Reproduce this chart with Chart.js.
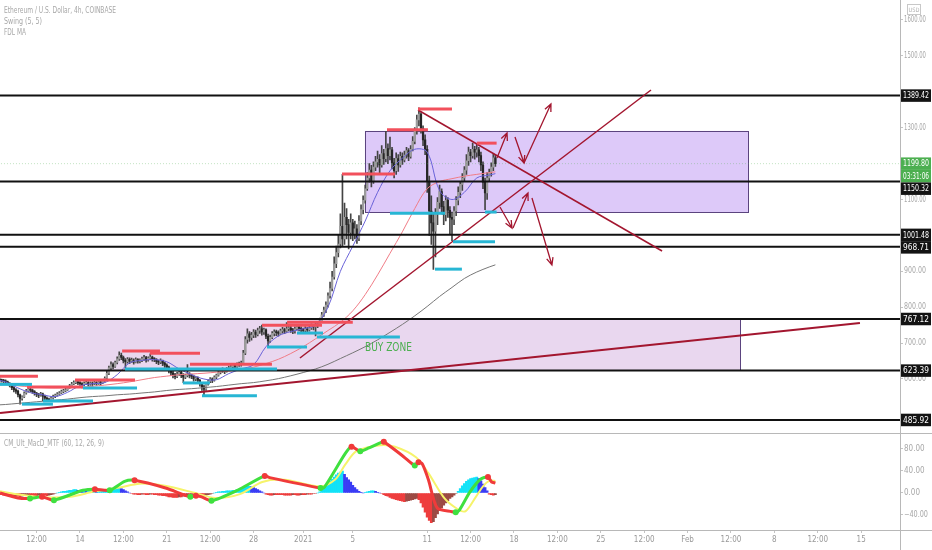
<!DOCTYPE html>
<html>
<head>
<meta charset="utf-8">
<script src="https://cdn.jsdelivr.net/npm/chart.js@4.4.1/dist/chart.umd.min.js"></script>
<style>
html, body { margin: 0; padding: 0; background: #fff; }
canvas { display: block; }
</style>
</head>
<body>
<canvas id="chart" width="932" height="550"></canvas>
<script>
const FONT = '"Liberation Sans Narrow", "DejaVu Sans Condensed", "Liberation Sans", sans-serif';

// x axis: days counted from Dec 14 2020 00:00, 4h bars
const tickDays = [-3.5, 0, 3.5, 7, 10.5, 14, 18, 22, 28, 31.5, 35, 38.5, 42, 45.5, 49, 52.5, 56, 59.5, 63];
const tickLabels = ['12:00', '14', '12:00', '21', '12:00', '28', '2021', '5', '11', '12:00', '18', '12:00', '25', '12:00', 'Feb', '12:00', '8', '12:00', '15'];
const priceTicks = [1600, 1500, 1300, 1100, 900, 800, 700, 600];
const macdTicks = [80, 40, 0, -40];

const firstDay = -6.5;
const firstOpen = 600;
const closes = [
  598, 596, 594,
  592, 588, 582, 576, 570, 566,
  556, 546, 550, 561, 567, 572,
  569, 565, 561, 557, 555, 559,
  552, 547, 544, 541, 547, 551,
  555, 558, 561, 565, 567, 570,
  575, 581, 586, 590, 592, 589,
  587, 584, 588, 590, 586, 588,
  586, 590, 587, 592, 589, 594,
  602, 616, 631, 640, 635, 646,
  656, 666, 660, 652, 648, 655,
  650, 653, 647, 654, 650, 652,
  656, 660, 653, 658, 661, 656,
  654, 649, 647, 651, 644, 639,
  633, 624, 617, 612, 607, 614,
  619, 611, 605, 610, 614, 611,
  607, 600, 603, 596, 588, 578,
  572, 586, 594, 600, 597, 605,
  611, 618, 623, 626, 621, 628,
  631, 634, 638, 635, 640, 642,
  645, 672, 710, 726, 716, 722,
  731, 724, 735, 740, 731, 737,
  719, 706, 716, 727, 731, 729,
  727, 734, 738, 733, 740, 742,
  737, 734, 740, 745, 741, 737,
  735, 740, 737, 742, 748, 745,
  749, 753, 762, 779, 792, 806,
  832, 852, 884, 921, 952, 976,
  1025, 990, 1050, 1030, 1008, 1035,
  1002, 1018, 992, 1040, 1072, 1098,
  1130, 1160, 1182, 1150, 1190, 1205,
  1212, 1196, 1228, 1214, 1242, 1222,
  1238, 1202, 1180, 1214, 1196, 1220,
  1210, 1224, 1236, 1220, 1240, 1262,
  1292, 1322, 1338, 1298, 1266, 1240,
  1150, 1068, 1035, 1012, 1060, 1092,
  1122, 1080, 1058, 1098, 1070, 1050,
  1045, 1068, 1098, 1120, 1142, 1160,
  1182, 1208, 1232, 1222, 1240, 1232,
  1238, 1222, 1196, 1148, 1118, 1160,
  1176, 1190, 1216, 1199.8
];
const highs = [
  608, 600, 599,
  598, 594, 590, 584, 579, 573,
  569, 558, 553, 564, 571, 576,
  580, 572, 568, 563, 560, 563,
  561, 555, 550, 547, 551, 555,
  558, 562, 565, 569, 571, 574,
  578, 585, 591, 595, 597, 595,
  593, 590, 592, 594, 593, 592,
  592, 594, 593, 596, 595, 598,
  606, 622, 636, 648, 645, 650,
  662, 676, 672, 664, 657, 660,
  659, 658, 656, 659, 657, 656,
  661, 666, 663, 662, 670, 664,
  660, 657, 653, 656, 653, 647,
  642, 636, 628, 622, 616, 619,
  624, 622, 615, 614, 640, 618,
  614, 611, 607, 606, 599, 591,
  583, 590, 598, 604, 603, 609,
  614, 622, 628, 631, 628, 632,
  636, 639, 642, 641, 645, 647,
  650, 680, 718, 740, 732, 730,
  738, 736, 742, 747, 750, 742,
  740, 725, 722, 732, 737, 736,
  734, 739, 744, 742, 757, 748,
  747, 741, 745, 751, 750, 745,
  742, 746, 744, 748, 754, 752,
  755, 759, 770, 786, 800, 815,
  840, 870, 900, 940, 970, 1000,
  1060, 1170, 1090, 1075, 1045, 1060,
  1045, 1040, 1030, 1055, 1085, 1110,
  1140, 1175, 1200, 1195, 1205, 1220,
  1235, 1225, 1250, 1240, 1290, 1255,
  1274, 1245, 1215, 1230, 1225, 1232,
  1230, 1235, 1245, 1242, 1250, 1275,
  1300, 1335, 1355, 1342, 1305, 1280,
  1250, 1165, 1110, 1060, 1075, 1105,
  1140, 1130, 1095, 1110, 1105, 1080,
  1065, 1080, 1108, 1135, 1150, 1172,
  1192, 1225, 1246, 1240, 1257, 1248,
  1255, 1245, 1232, 1205, 1160, 1175,
  1185, 1202, 1228, 1224
];
const lows = [
  587, 591, 589,
  587, 584, 578, 570, 564, 560,
  550, 530, 541, 548, 558, 563,
  564, 560, 555, 551, 548, 552,
  539, 541, 540, 538, 540, 544,
  548, 552, 555, 559, 562, 565,
  568, 574, 579, 584, 587, 584,
  582, 575, 581, 584, 581, 582,
  580, 584, 582, 585, 584, 587,
  591, 600, 612, 626, 628, 632,
  642, 652, 654, 645, 628, 644,
  643, 646, 641, 645, 644, 645,
  648, 652, 647, 650, 654, 650,
  648, 643, 640, 643, 637, 632,
  626, 617, 609, 603, 600, 604,
  610, 604, 590, 601, 606, 603,
  601, 594, 595, 589, 580, 568,
  555, 568, 583, 590, 590, 594,
  601, 608, 614, 618, 615, 619,
  623, 627, 630, 629, 632, 635,
  636, 642, 668, 700, 705, 708,
  715, 716, 720, 727, 722, 724,
  712, 690, 702, 712, 720, 721,
  719, 724, 728, 726, 730, 734,
  730, 726, 728, 736, 734, 729,
  726, 731, 729, 733, 738, 737,
  720, 743, 750, 758, 774, 785,
  800, 825, 845, 878, 910, 940,
  965, 970, 975, 990, 962, 990,
  985, 990, 978, 985, 1030, 1060,
  1090, 1125, 1148, 1135, 1145, 1180,
  1190, 1172, 1190, 1198, 1205, 1200,
  1210, 1185, 1160, 1170, 1178, 1190,
  1198, 1205, 1215, 1208, 1215, 1235,
  1255, 1282, 1305, 1285, 1250, 1225,
  1120, 1000, 975, 905, 940, 1030,
  1075, 1060, 1030, 1040, 1050, 1005,
  985, 1030, 1055, 1085, 1105, 1125,
  1150, 1170, 1195, 1205, 1215, 1212,
  1218, 1205, 1180, 1130, 1072, 1100,
  1150, 1165, 1180, 1192
];

// moving averages, one point per day
const maDays = [-6.5, -6, -5, -4, -3, -2, -1, 0, 1, 2, 3, 4, 5, 6, 7, 8, 9, 10, 11, 12, 13, 14, 15, 16, 17, 18, 19, 20, 21, 22, 23, 24, 25, 26, 27, 28, 29, 30, 31, 32, 33, 33.5];
const fastMA = [596, 592, 575, 562, 556, 551, 563, 581, 587, 590, 612, 645, 652, 654, 648, 628, 612, 600, 598, 615, 628, 640, 690, 720, 732, 740, 750, 800, 900, 970, 1040, 1120, 1180, 1215, 1240, 1232, 1125, 1100, 1120, 1160, 1168, 1172];
const midMA = [586, 585, 581, 578, 576, 575, 576, 577, 580, 583, 587, 592, 598, 604, 608, 612, 614, 616, 619, 622, 627, 633, 643, 655, 671, 690, 712, 735, 758, 790, 835, 890, 950, 1010, 1075, 1130, 1150, 1158, 1165, 1170, 1175, 1177];
const slowMA = [528, 529, 532, 535, 538, 541, 544, 548, 551, 553, 556, 558, 561, 564, 568, 571, 573, 576, 579, 583, 587, 590, 595, 601, 609, 618, 628, 641, 657, 673, 690, 709, 730, 752, 776, 802, 830, 855, 880, 898, 912, 918];

// MACD pane
const macdDays = [-6.45, -5.0, -4.03, -3.06, -2.1, 0.24, 1.2, 2.4, 3.6, 4.4, 6.9, 8.9, 9.35, 9.8, 10.6, 12.7, 14.9, 15.3, 19.4, 19.7, 21.4, 21.9, 22.6, 23.3, 24.2, 24.5, 26.1, 27.0, 27.3, 27.6, 28.1, 28.8, 30.0, 30.3, 30.6, 31.45, 32.3, 32.9, 33.2, 33.5];
const macdVals = [0, -9, -10, -7, -13, 5, 7, 5, 21, 23, 9, -7, -5, -7, -14, 5, 31, 28, 9, 10, 72, 84, 76, 82, 91, 93, 66, 50, 56, 53, 24, -27, -34, -35, -31, 2, 25, 29, 20, 18];
const sigDays = [-6.45, -4.8, -2.8, -0.8, 1.2, 3.2, 4.8, 6.85, 9.3, 10.9, 12.9, 14.7, 16.5, 19.35, 20.6, 21.4, 22.3, 24.2, 25.4, 27.1, 28.1, 29.4, 30.5, 31.1, 31.9, 32.5, 33.0, 33.5];
const sigVals = [3, -3, -8, -7, 3, 10, 17, 13, 0, -9, -2, 20, 24, 12, 25, 52, 76, 87, 84, 65, 36, -10, -30, -33, -8, 12, 22, 22];
const hist = [
  -2, -3, -4,
  -4, -5, -5, -6, -6, -5,
  -6, -7, -6, -5, -4, -3,
  -3, -4, -5, -5, -4, -3,
  -3, -4, -5, -4, -3, -2,
  -1, 0, 1, 2, 3, 3,
  4, 5, 5, 6, 6, 5,
  5, 4, 4, 3, 3, 4,
  3, 3, 2, 3, 3, 4,
  4, 5, 6, 7, 8, 9,
  9, 9, 8, 6, 4, 2,
  0, -1, -2, -2, -3, -3,
  -2, -2, -3, -3, -2, -2,
  -3, -3, -4, -4, -5, -5,
  -6, -7, -7, -8, -8, -8,
  -7, -7, -6, -6, -5, -5,
  -4, -4, -3, -3, -4, -5,
  -5, -4, -3, -2, -1, 0,
  1, 2, 2, 3, 3, 4,
  4, 4, 5, 5, 6, 6,
  7, 9, 11, 12, 12, 11,
  10, 8, 6, 4, 2, 0,
  -2, -3, -4, -4, -3, -3,
  -3, -3, -3, -4, -4, -4,
  -4, -3, -3, -4, -4, -3,
  -3, -3, -2, -2, -2, -1,
  -1, 0, 2, 5, 9, 13,
  17, 21, 25, 29, 33, 36,
  38, 40, 34, 28, 24, 20,
  14, 10, 6, 3, 1, 0,
  1, 2, 3, 4, 4, 3,
  1, 0, -1, -3, -5, -6,
  -8, -10, -11, -12, -13, -14,
  -15, -16, -15, -14, -13, -12,
  -11, -10, -12, -18, -26, -35,
  -44, -50, -54, -52, -45, -38,
  -32, -27, -22, -18, -14, -10,
  -7, -4, -1, 3, 8, 13,
  17, 21, 24, 26, 27, 28,
  29, 26, 22, 16, 10, 4,
  -2, -3, -4, -3
];

// drawings
const levels = [1389.42, 1150.32, 1001.48, 968.71, 767.12, 623.39, 485.92];
const lastPrice = 1199.80;
const countdown = '03:31:06';
const swingHighs = [[-6.45, -3.39, 608], [-4.27, 0.24, 578], [-0.4, 4.44, 597], [3.4, 6.45, 678], [5.65, 9.68, 672], [8.87, 15.48, 641], [14.68, 19.52, 750], [16.7, 22.0, 758], [21.13, 25.4, 1171], [24.76, 28.06, 1294], [27.26, 30.0, 1352], [32.0, 33.6, 1257]];
const swingLows = [[-6.45, -3.87, 585], [-4.68, -2.18, 530], [-2.98, 1.05, 539], [0.24, 4.6, 575], [3.63, 15.89, 628], [8.3, 10.48, 589], [9.84, 14.27, 553], [15.08, 18.31, 689], [17.5, 19.6, 728], [19.11, 25.8, 717], [25.0, 29.44, 1062], [28.63, 30.8, 906], [30.08, 33.47, 982], [32.66, 33.6, 1065]];
const zones = [[22.98, 53.87, 1065, 1291], [-7, 53.23, 625, 767.12]];
const trendLines = [[27.26, 1349.3, 46.94, 956.5], [17.74, 658.5, 46.05, 1405], [-6.45, 505.3, 62.9, 756]];
const arrows = [
  [33.63, 1215.6, 34.44, 1285.2], [35.08, 1274.1, 35.81, 1201.7], [35.81, 1201.7, 37.98, 1366],
  [33.87, 1079, 34.84, 1020.6], [34.92, 1020.6, 36.13, 1118], [36.45, 1104.2, 38.06, 917.5]
];
const zoneText = 'BUY ZONE';
const zoneTextAt = [22.98, 686];

const barDays = closes.map((c, i) => firstDay + i / 6);
const opens = closes.map((c, i) => i ? closes[i - 1] : firstOpen);
const pts = (xs, ys) => xs.map((v, i) => ({x: v, y: ys[i]}));
const hline = p => [{x: -10, y: p}, {x: 70, y: p}];

const GREEN = '#4caf50';
const MACD_UP = '#3fe03f', MACD_DN = '#f03a3a';

function noPad(s) {
  s.paddingTop = 0; s.paddingBottom = 0; s.paddingLeft = 0; s.paddingRight = 0;
}

const overlay = {
  id: 'overlay',
  beforeDatasetsDraw(chart) {
    const {ctx, chartArea: a, scales: {x, y}} = chart;
    const fills = ['rgba(200,168,246,0.62)', 'rgba(222,196,232,0.68)'];
    ctx.save();
    ctx.beginPath();
    ctx.rect(a.left, a.top, a.width, y.bottom - a.top);
    ctx.clip();
    zones.forEach((z, i) => {
      const x0 = x.getPixelForValue(z[0]), x1 = x.getPixelForValue(z[1]);
      const y0 = y.getPixelForValue(z[3]), y1 = y.getPixelForValue(z[2]);
      ctx.fillStyle = fills[i];
      ctx.fillRect(x0, y0, x1 - x0, y1 - y0);
      ctx.strokeStyle = '#5b447f';
      ctx.lineWidth = 1;
      ctx.strokeRect(Math.round(x0) + 0.5, Math.round(y0) + 0.5, Math.round(x1 - x0), Math.round(y1 - y0));
    });
    ctx.restore();
  },
  afterDatasetsDraw(chart) {
    const {ctx, scales: {x, y}} = chart;
    ctx.save();
    ctx.lineWidth = 3;
    ctx.lineCap = 'butt';
    const seg = (s, col) => {
      const yy = y.getPixelForValue(s[2]);
      ctx.strokeStyle = col;
      ctx.beginPath();
      ctx.moveTo(x.getPixelForValue(s[0]), yy);
      ctx.lineTo(x.getPixelForValue(s[1]), yy);
      ctx.stroke();
    };
    swingHighs.forEach(s => seg(s, '#f2505c'));
    swingLows.forEach(s => seg(s, '#27b6d4'));

    ctx.strokeStyle = '#a3162f';
    ctx.lineWidth = 1.3;
    arrows.forEach(r => {
      const x0 = x.getPixelForValue(r[0]), y0 = y.getPixelForValue(r[1]);
      const x1 = x.getPixelForValue(r[2]), y1 = y.getPixelForValue(r[3]);
      const ang = Math.atan2(y1 - y0, x1 - x0), L = 8;
      ctx.beginPath();
      ctx.moveTo(x0, y0);
      ctx.lineTo(x1, y1);
      ctx.moveTo(x1 - L * Math.cos(ang - 0.42), y1 - L * Math.sin(ang - 0.42));
      ctx.lineTo(x1, y1);
      ctx.lineTo(x1 - L * Math.cos(ang + 0.42), y1 - L * Math.sin(ang + 0.42));
      ctx.stroke();
    });

    ctx.fillStyle = '#4caf50';
    ctx.font = '12px ' + FONT;
    ctx.textBaseline = 'middle';
    ctx.fillText(zoneText, x.getPixelForValue(zoneTextAt[0]), y.getPixelForValue(zoneTextAt[1]), 47);
    ctx.restore();
  },
  afterDraw(chart) {
    const {ctx, chartArea: a, scales: {y, yM}} = chart;
    const W = chart.width, Hc = chart.height;
    ctx.save();
    // frame lines
    ctx.strokeStyle = '#b8b8b8';
    ctx.lineWidth = 1;
    ctx.beginPath();
    ctx.moveTo(0, Math.round(y.bottom) + 0.5); ctx.lineTo(W, Math.round(y.bottom) + 0.5);
    ctx.moveTo(0, Math.round(a.bottom) + 0.5); ctx.lineTo(W, Math.round(a.bottom) + 0.5);
    ctx.moveTo(Math.round(a.right) + 0.5, 0); ctx.lineTo(Math.round(a.right) + 0.5, Hc);
    ctx.stroke();

    // axis tick labels, squeezed like the narrow axis font
    ctx.font = '8px ' + FONT;
    ctx.textBaseline = 'middle';
    ctx.fillStyle = '#a8a8a8';
    priceTicks.forEach(v => ctx.fillText(v.toFixed(2), a.right + 4, y.getPixelForValue(v), 22));
    macdTicks.forEach(v => ctx.fillText(v < 0 ? '\u2212' + (-v).toFixed(2) : v.toFixed(2), a.right + 4, yM.getPixelForValue(v), v < 0 ? 24 : 22));

    // price labels on the right axis
    const BH = 12.5;
    const items = levels.map(p => ({y: y.getPixelForValue(p), text: p.toFixed(2), bg: '#131313'}));
    const yl = y.getPixelForValue(lastPrice);
    items.push({y: yl, text: lastPrice.toFixed(2), bg: GREEN});
    items.push({y: yl + BH, text: countdown, bg: GREEN});
    items.sort((p, q) => p.y - q.y);
    for (let i = 1; i < items.length; i++) {
      if (items[i].y < items[i - 1].y + BH) items[i].y = items[i - 1].y + BH;
    }
    ctx.font = '8.5px ' + FONT;
    items.forEach(it => {
      ctx.fillStyle = it.bg;
      ctx.fillRect(a.right + 1, it.y - BH / 2, 30, BH);
      ctx.fillStyle = '#fff';
      ctx.fillText(it.text, a.right + 3, it.y + 0.5, 26);
    });

    // USD box
    ctx.strokeStyle = '#c8c8c8';
    ctx.strokeRect(907.5, 4.5, 13, 10);
    ctx.fillStyle = '#b0b0b0';
    ctx.font = '6px ' + FONT;
    ctx.textAlign = 'center';
    ctx.fillText('USD', 914, 10, 11);

    // legends
    ctx.textAlign = 'left';
    ctx.fillStyle = '#a8a8a8';
    ctx.font = '8px ' + FONT;
    ctx.fillText('Ethereum / U.S. Dollar, 4h, COINBASE', 4, 11, 112);
    ctx.fillText('Swing (5, 5)', 4, 22, 38);
    ctx.fillText('FDL MA', 4, 33, 22);
    ctx.fillText('CM_Ult_MacD_MTF (60, 12, 26, 9)', 4, y.bottom + 11, 100);
    ctx.restore();
  }
};

const datasets = [];
// trend lines
trendLines.forEach((t, i) => datasets.push({
  type: 'line', yAxisID: 'y', order: 2,
  data: [{x: t[0], y: t[1]}, {x: t[2], y: t[3]}],
  borderColor: '#a3162f', borderWidth: i === 2 ? 2 : 1.5, pointRadius: 0
}));
// horizontal levels
levels.forEach(p => datasets.push({
  type: 'line', yAxisID: 'y', order: 3, data: hline(p),
  borderColor: '#111', borderWidth: 2, pointRadius: 0
}));
datasets.push({
  type: 'line', yAxisID: 'y', order: 3, data: hline(lastPrice),
  borderColor: 'rgba(76,175,80,0.35)', borderWidth: 1, borderDash: [1, 2], pointRadius: 0
});
// MACD lines
datasets.push({
  type: 'line', yAxisID: 'yM', order: 4, data: pts(macdDays, macdVals),
  borderWidth: 3, tension: 0.25,
  segment: {borderColor: c => c.p1.parsed.y >= c.p0.parsed.y ? MACD_UP : MACD_DN},
  pointRadius: c => {
    const i = c.dataIndex;
    if (i === 0 || i === macdVals.length - 1) return 0;
    return (macdVals[i] - macdVals[i - 1]) * (macdVals[i + 1] - macdVals[i]) < 0 ? 3 : 0;
  },
  pointBorderWidth: 0,
  pointBackgroundColor: c => {
    const i = c.dataIndex;
    return macdVals[i + 1] > macdVals[i] ? MACD_UP : MACD_DN;
  }
});
datasets.push({
  type: 'line', yAxisID: 'yM', order: 5, data: pts(sigDays, sigVals),
  borderColor: '#f6f36a', borderWidth: 2, tension: 0.3, pointRadius: 0
});
// moving averages
[[fastMA, '#6a63d8'], [midMA, '#f07c86'], [slowMA, '#777']].forEach(m => datasets.push({
  type: 'line', yAxisID: 'y', order: 6, data: pts(maDays, m[0]),
  borderColor: m[1], borderWidth: 1, tension: 0.35, pointRadius: 0
}));
// candles
datasets.push({
  type: 'bar', yAxisID: 'y', order: 7, grouped: false, barThickness: 1.6, minBarLength: 1,
  data: closes.map((c, i) => ({x: barDays[i], y: [opens[i], c]})),
  backgroundColor: c => closes[c.dataIndex] >= opens[c.dataIndex] ? '#9c9c9c' : '#262626'
});
datasets.push({
  type: 'bar', yAxisID: 'y', order: 8, grouped: false, barThickness: 1,
  data: closes.map((c, i) => ({x: barDays[i], y: [lows[i], highs[i]]})),
  backgroundColor: '#444'
});
// histogram
datasets.push({
  type: 'bar', yAxisID: 'yM', order: 9, grouped: false, barThickness: 2.1,
  data: hist.map((v, i) => ({x: barDays[i], y: v})),
  backgroundColor: c => {
    const i = c.dataIndex, v = hist[i], pv = i ? hist[i - 1] : v;
    if (v >= 0) return v >= pv ? '#12e2f7' : '#3a3cf5';
    return v <= pv ? '#ee3d3d' : '#9c4a44';
  }
});

Chart.defaults.font.family = FONT;

new Chart(document.getElementById('chart'), {
  type: 'bar',
  data: {datasets},
  options: {
    responsive: false,
    devicePixelRatio: 1,
    animation: false,
    layout: {padding: 0},
    plugins: {legend: {display: false}, tooltip: {enabled: false}},
    scales: {
      x: {
        type: 'linear', position: 'bottom', min: -6.45, max: 66.13, offset: false,
        grid: {display: true, offset: false, drawOnChartArea: false, drawTicks: true, tickLength: 3, color: '#c4c4c4'},
        border: {display: false},
        afterBuildTicks: s => { s.ticks = tickDays.map(v => ({value: v})); },
        afterFit: s => { s.height = 20; noPad(s); },
        ticks: {autoSkip: false, maxRotation: 0, padding: 2, color: '#999', font: {size: 8},
          callback: (v, i) => tickLabels[i]}
      },
      y: {
        type: 'linear', position: 'right', stack: 'pane', stackWeight: 432.5,
        min: 450.97, max: 1655.7,
        grid: {drawOnChartArea: false, drawTicks: true, tickLength: 3, color: '#c4c4c4'},
        border: {display: false},
        afterBuildTicks: s => { s.ticks = priceTicks.map(v => ({value: v})); },
        afterFit: s => { s.width = 32; noPad(s); },
        ticks: {display: false}
      },
      yM: {
        type: 'linear', position: 'right', stack: 'pane', stackWeight: 97.5,
        min: -67.3, max: 110,
        grid: {drawOnChartArea: false, drawTicks: true, tickLength: 3, color: '#c4c4c4'},
        border: {display: false},
        afterBuildTicks: s => { s.ticks = macdTicks.map(v => ({value: v})); },
        afterFit: s => { s.width = 32; noPad(s); },
        ticks: {display: false}
      }
    }
  },
  plugins: [overlay]
});
</script>
</body>
</html>
